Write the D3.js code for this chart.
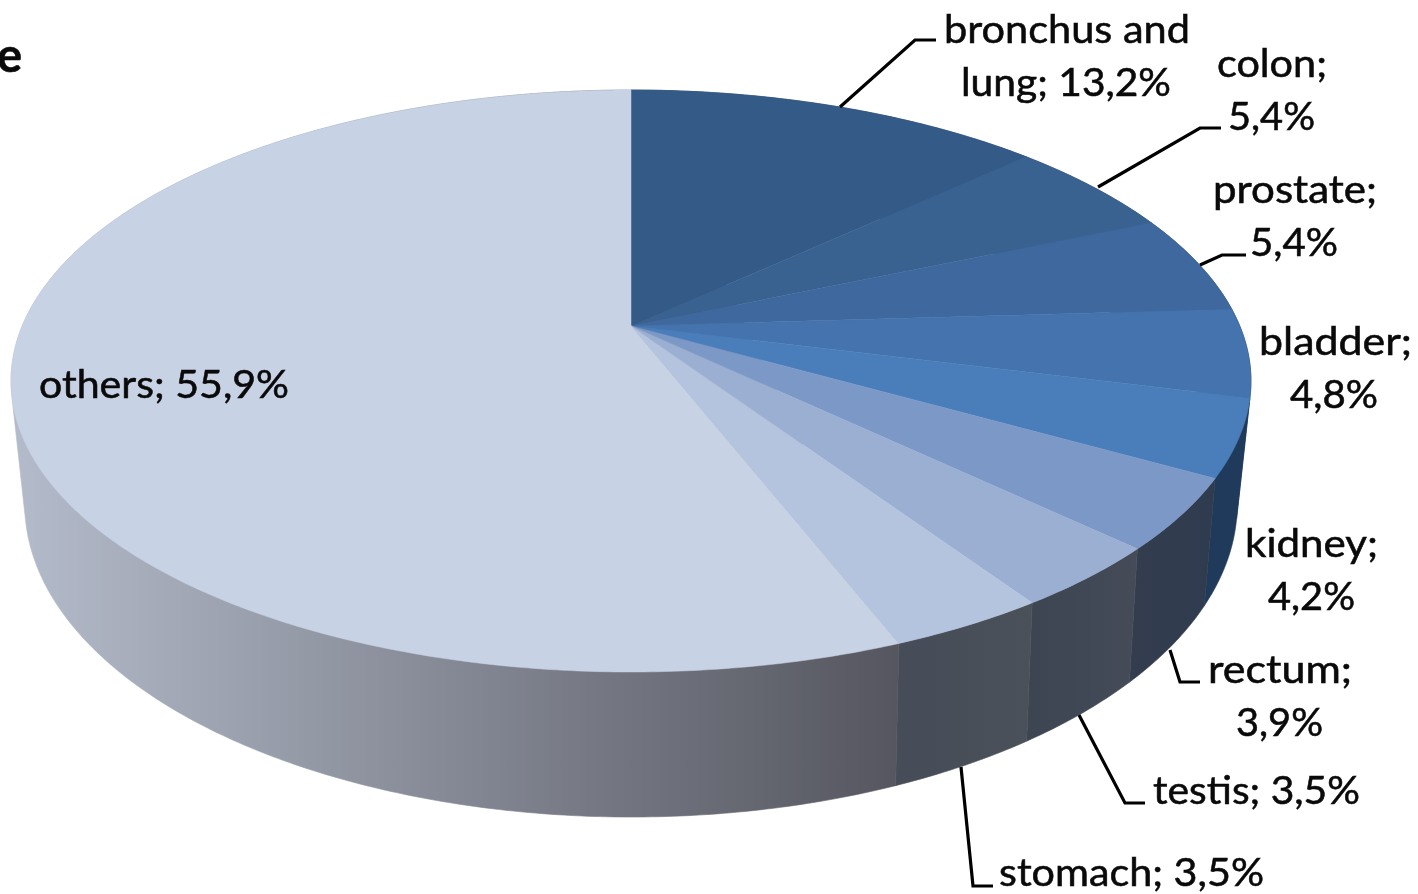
<!DOCTYPE html>
<html><head><meta charset="utf-8">
<script src="https://cdn.jsdelivr.net/npm/d3@7"></script>
<style>html,body{margin:0;padding:0;background:#fff;overflow:hidden}svg{display:block;filter:blur(0.45px)}
text{font-family:Lato,"Open Sans",sans-serif;font-weight:400;fill:#0a0a0a;stroke:#0a0a0a;stroke-width:0.55px}</style>
</head><body><svg id="c" width="1418" height="894"></svg>
<script>
const categories=["bronchus and lung","colon","prostate","bladder","kidney","rectum","testis","stomach","others"];
const values=[13.2,5.4,5.4,4.8,4.2,3.9,3.5,3.5,55.9];
const topColors=["#345a87","#3a6291","#3f699e","#4473ae","#4a7ebb","#7c98c6","#9bafd2","#b4c3de","#c8d2e5"];
const sideStart=["#2a4464","#2a4464","#2a4464","#1f3a5a","#1f3a5a","#333d4e","#3d4452","#464c58","#b4bbca"];
const sideEnd=["#2a4464","#2a4464","#2a4464","#1f3a5a","#1f3a5a","#2f3b4f","#454c58","#4b5159","#55565f"];
const labelBreak=[12,6,9,8,7,7,0,0,0];
const labelAnchors=[[[944,1190,43],[961,1171,96]],[[1217,1327,77],[1228,1315,130]],[[1213,1377,203],[1250,1338,256]],[[1259,1412,355],[1290,1378,408]],[[1245,1378,557],[1268,1355,610]],[[1208,1352,683],[1236,1323,736]],[[1153,1360,804]],[[999,1264,886]],[[39,289,398]]];
const leaders=[[[840,107],[915,40],[936,40]],[[1098,187],[1200,128],[1221,128]],[[1200,265],[1222,255],[1246,255]],null,null,[[1170,650],[1180,682],[1200,682]],[[1079,715],[1125,803],[1145,803]],[[961,767],[973,886],[993,886]],null];

const svg=d3.select("#c"),defs=svg.append("defs");
const pie=d3.pie().sort(null).startAngle(0).endAngle(2*Math.PI)(values);
const cx=631;
const warp=a=>a-0.01*Math.sin(2*a);
const rim=(A,B,y0,k)=>a0=>{const a=warp(a0),u=Math.sin(a),v=Math.cos(a),d=1+k*v;return [cx+A*u/d,y0-B*v/d];};
const topRim=rim(608.8,280.6,326,0.189), botRim=rim(594,300.5,441.4,0.2);
const samples=(a0,a1)=>{const n=Math.max(2,Math.ceil((a1-a0)/0.01));return d3.range(n+1).map(i=>a0+(a1-a0)*i/n);};
const line=d3.line();
const g=svg.append("g");
const hullSides=new Set([3,4,8]);

pie.forEach((s,i)=>{
  const aa=samples(s.startAngle,s.endAngle);
  const tp=aa.map(topRim), bp=aa.map(botRim);
  const pts=hullSides.has(i)?d3.polygonHull(tp.concat(bp)):tp.concat(bp.slice().reverse());
  const xs=pts.map(p=>p[0]);
  const id="sg"+i;
  const gr=defs.append("linearGradient").attr("id",id).attr("gradientUnits","userSpaceOnUse")
    .attr("x1",d3.min(xs)).attr("x2",d3.max(xs)).attr("y1",0).attr("y2",0);
  gr.append("stop").attr("offset",0).attr("stop-color",sideStart[i]);
  gr.append("stop").attr("offset",1).attr("stop-color",sideEnd[i]);
  g.append("path").attr("d",line(pts)+"Z").attr("fill",`url(#${id})`).attr("stroke",`url(#${id})`).attr("stroke-width",0.6);
});
pie.forEach((s,i)=>{
  const aa=samples(s.startAngle,s.endAngle);
  const pts=[[cx,326]].concat(aa.map(topRim));
  g.append("path").attr("d",line(pts)+"Z").attr("fill",topColors[i]).attr("stroke",topColors[i]).attr("stroke-width",0.5);
});
leaders.forEach(l=>{if(l)svg.append("path").attr("d",line(l)).attr("fill","none").attr("stroke","#000").attr("stroke-width",3.2);});
categories.forEach((c,i)=>{
  const full=`${c}; ${values[i].toFixed(1).replace(".",",")}%`;
  const b=labelBreak[i];
  const lines=b?[full.slice(0,b),full.slice(b+1)]:[full];
  lines.forEach((t,j)=>{
    const [x0,x1,y]=labelAnchors[i][j];
    svg.append("text").attr("x",x0).attr("y",y).attr("font-size",39).attr("textLength",x1-x0).attr("lengthAdjust","spacingAndGlyphs").text(t);
  });
});
svg.append("text").attr("x",-3).attr("y",72).attr("font-size",47).style("font-weight",700).text("e");
</script></body></html>
